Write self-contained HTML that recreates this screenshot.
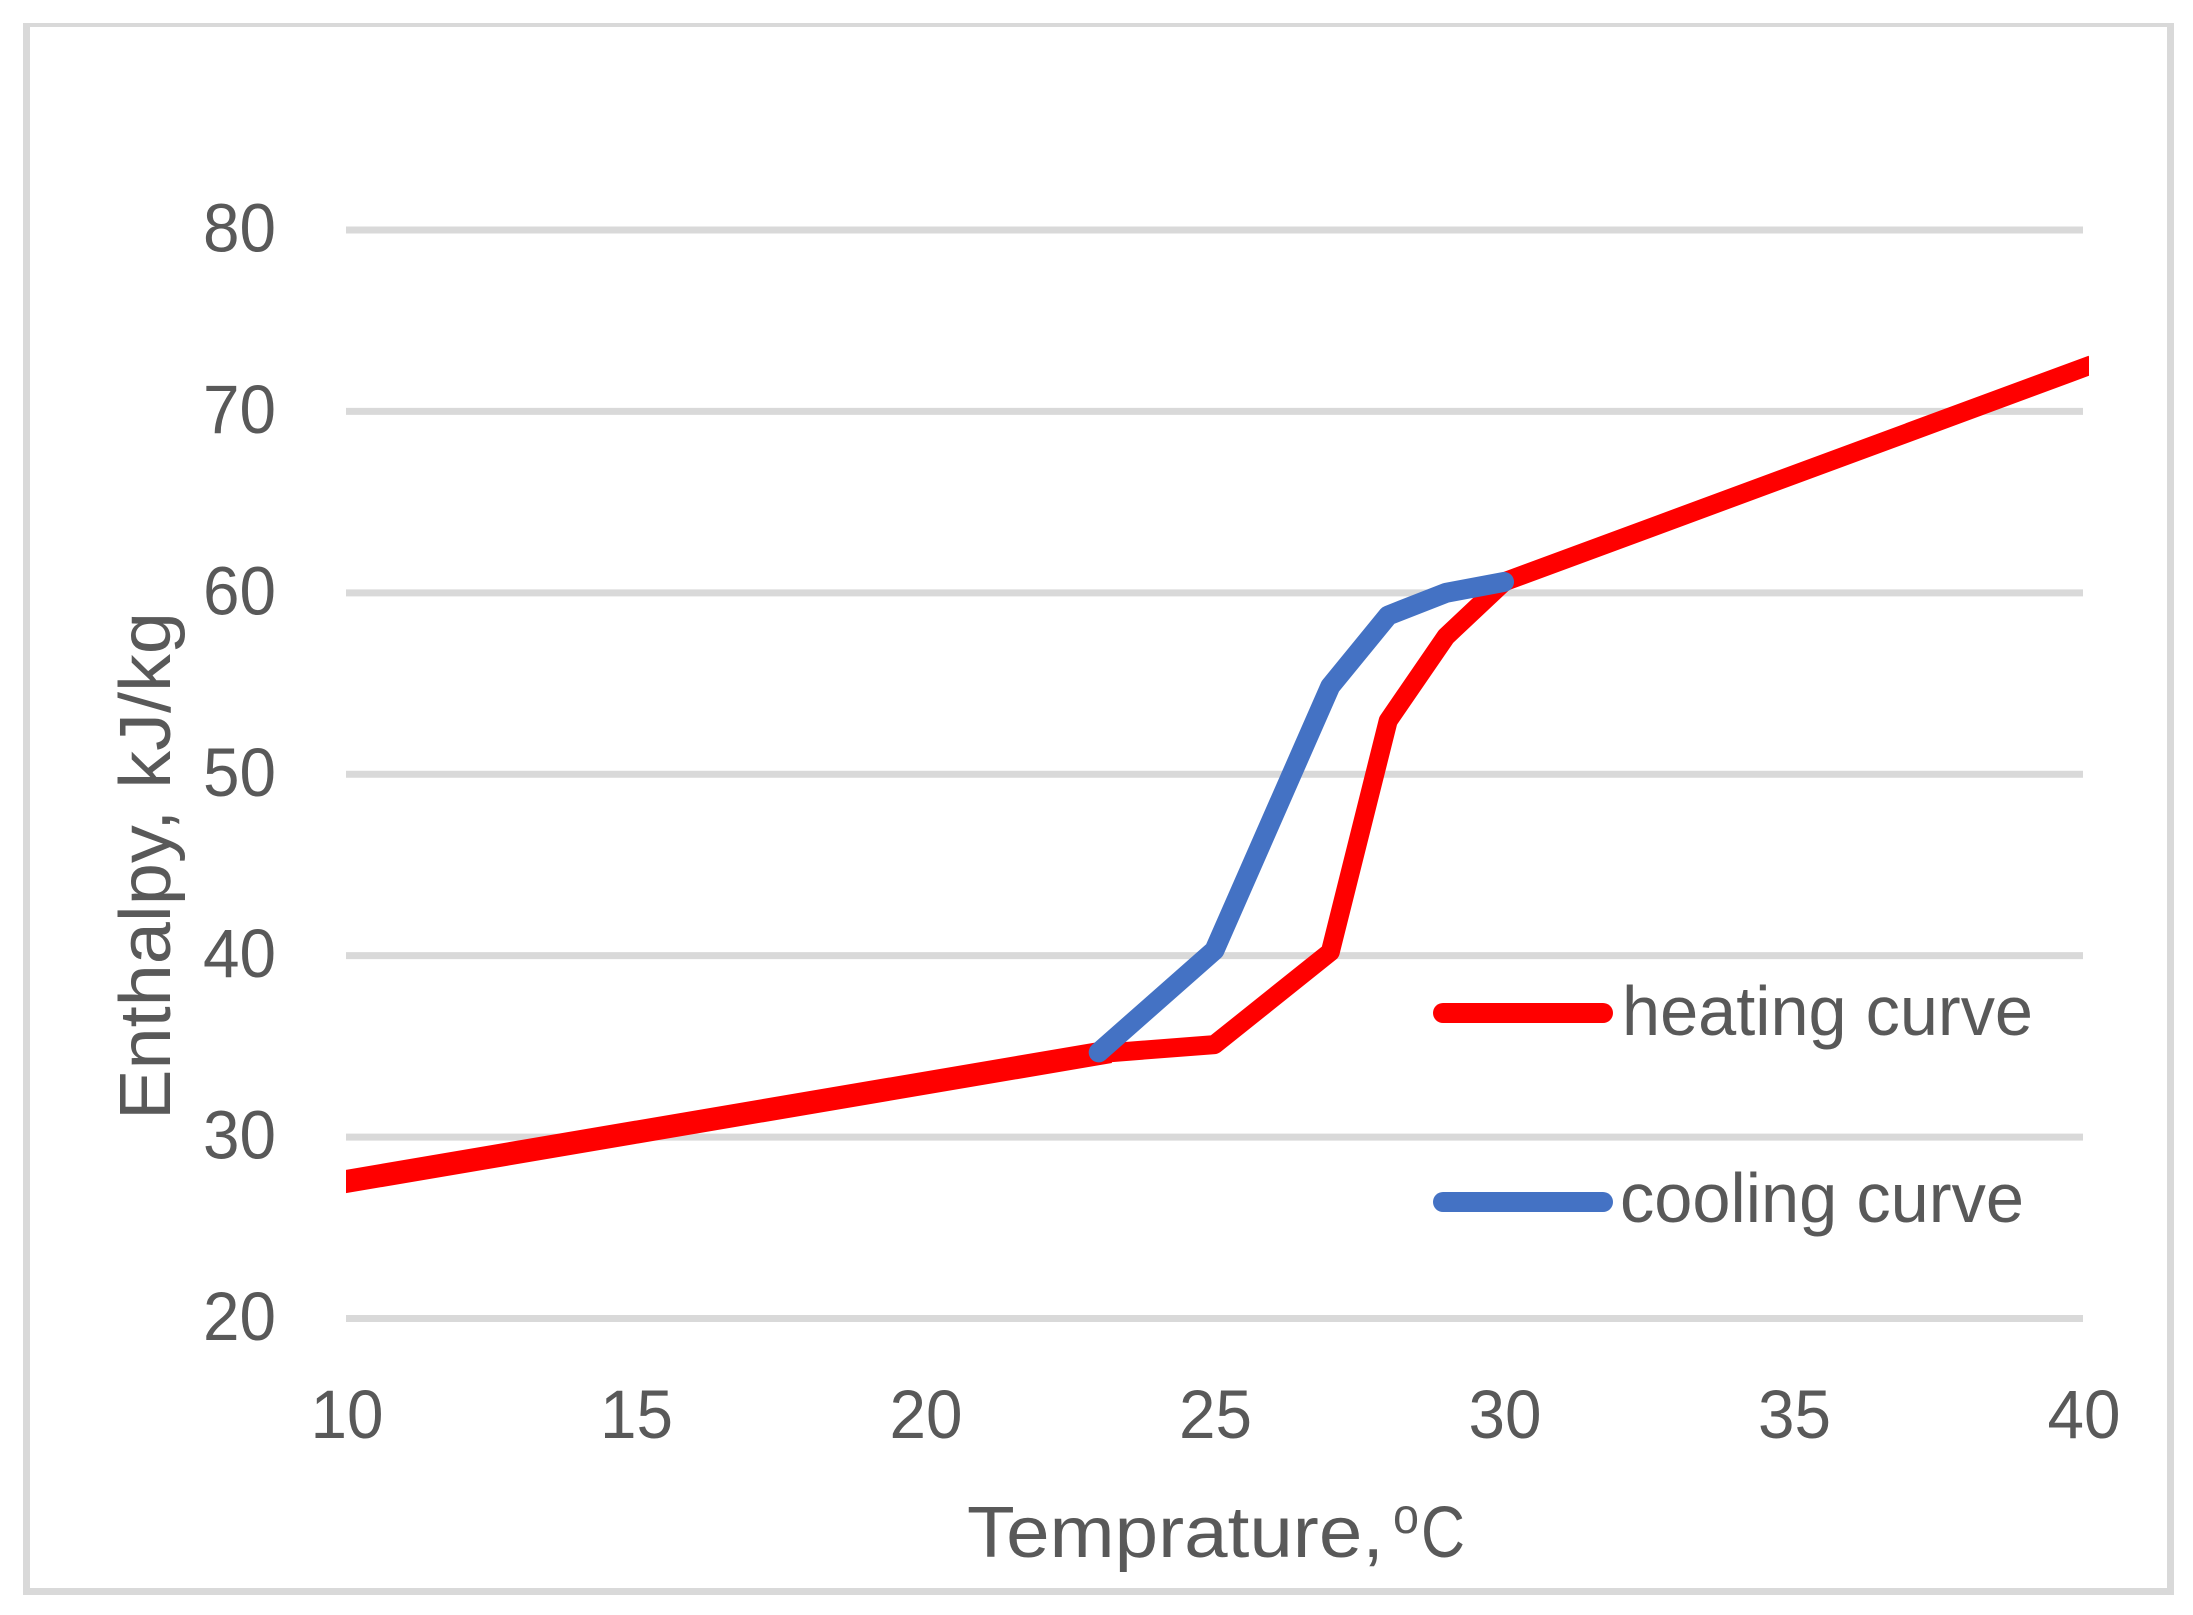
<!DOCTYPE html>
<html lang="en">
<head>
<meta charset="utf-8">
<title>Enthalpy vs Temperature</title>
<style>
html,body{margin:0;padding:0;background:#fff;}
svg{display:block;}
text{font-family:"Liberation Sans",sans-serif;fill:#595959;}
</style>
</head>
<body>
<svg id="chart" xmlns="http://www.w3.org/2000/svg" width="2193" height="1615" viewBox="0 0 2193 1615">
  <rect x="0" y="0" width="2193" height="1615" fill="#ffffff"/>
  <g fill="#D9D9D9">
    <rect x="23" y="23" width="2151" height="4"/>
    <rect x="23" y="1588" width="2151" height="7"/>
    <rect x="23" y="23" width="7" height="1572"/>
    <rect x="2167" y="23" width="7" height="1572"/>
  </g>
  <defs>
    <clipPath id="plot-clip"><rect x="346" y="100" width="1743" height="1300"/></clipPath>
  </defs>
  <g id="grid"></g>
  <g id="yticks"></g>
  <g id="xticks"></g>
  <g id="series" clip-path="url(#plot-clip)"></g>
  <text x="170" y="1120" transform="rotate(-90 170 1120)" font-size="72" textLength="508" lengthAdjust="spacingAndGlyphs">Enthalpy, kJ/kg</text>
  <g>
    <text x="967" y="1557" font-size="72" textLength="417" lengthAdjust="spacingAndGlyphs">Temprature,</text>
    <text x="1393" y="1533" font-size="50" textLength="26" lengthAdjust="spacingAndGlyphs">o</text>
    <text x="1421" y="1557" font-size="72" textLength="44" lengthAdjust="spacingAndGlyphs">C</text>
  </g>
  <g>
    <g>
      <line x1="1443" y1="1013" x2="1603" y2="1013" stroke="#FF0000" stroke-width="20" stroke-linecap="round"/>
      <text x="1622" y="1035" font-size="70" textLength="411" lengthAdjust="spacingAndGlyphs">heating curve</text>
    </g>
    <g>
      <line x1="1443" y1="1202" x2="1603" y2="1202" stroke="#4472C4" stroke-width="20" stroke-linecap="round"/>
      <text x="1620" y="1222" font-size="70" textLength="404" lengthAdjust="spacingAndGlyphs">cooling curve</text>
    </g>
  </g>
</svg>
<script>
var xTickValues = [10, 15, 20, 25, 30, 35, 40];
var yTickValues = [20, 30, 40, 50, 60, 70, 80];
var heatingTemps = [10, 23, 25, 27, 28, 29, 30, 40];
var heatingEnthalpy = [27.55, 34.6, 35.1, 40.2, 52.95, 57.6, 60.6, 72.4];
var coolingTemps = [23, 25, 27, 28, 29, 30];
var coolingEnthalpy = [34.67, 40.3, 54.85, 58.75, 60.0, 60.6];
var sharedBranchEnd = 23;

var SVG_NS = 'http://www.w3.org/2000/svg';
function xScale(v) { return 346 + (v - 10) * (2083 - 346) / 30; }
function yScale(v) { return 1318.5 - (v - 20) * (1318.5 - 230) / 60; }
function make(tag, attrs, parent) {
  var el = document.createElementNS(SVG_NS, tag);
  for (var k in attrs) { el.setAttribute(k, attrs[k]); }
  parent.appendChild(el);
  return el;
}
function pointsOf(xs, ys) {
  return xs.map(function (x, i) { return xScale(x).toFixed(1) + ',' + yScale(ys[i]).toFixed(1); }).join(' ');
}

var grid = document.getElementById('grid');
var yticks = document.getElementById('yticks');
var xticks = document.getElementById('xticks');
var series = document.getElementById('series');

yTickValues.forEach(function (v) {
  var line = make('line', { x1: xScale(10), x2: xScale(40), y1: yScale(v), y2: yScale(v), stroke: '#D9D9D9', 'stroke-width': 7 }, grid);
  
  
  var label = make('text', { x: 276, y: yScale(v) + 21.5, 'font-size': 69, 'text-anchor': 'end', textLength: 73, lengthAdjust: 'spacingAndGlyphs' }, yticks);
  label.textContent = String(v);
  
  
});

xTickValues.forEach(function (v) {
  var label = make('text', { x: xScale(v) + 1, y: 1438, 'font-size': 69, 'text-anchor': 'middle', textLength: 73, lengthAdjust: 'spacingAndGlyphs' }, xticks);
  label.textContent = String(v);
  
  
});

var heating = make('polyline', { points: pointsOf(heatingTemps, heatingEnthalpy), fill: 'none', stroke: '#FF0000', 'stroke-width': 19, 'stroke-linejoin': 'round', 'stroke-linecap': 'square' }, series);



var sharedCount = heatingTemps.filter(function (t) { return t <= sharedBranchEnd; }).length;
var heatingShared = make('polyline', { points: pointsOf(heatingTemps.slice(0, sharedCount), heatingEnthalpy.slice(0, sharedCount)), fill: 'none', stroke: '#FF0000', 'stroke-width': 23, 'stroke-linecap': 'square' }, series);



var cooling = make('polyline', { points: pointsOf(coolingTemps, coolingEnthalpy), fill: 'none', stroke: '#4472C4', 'stroke-width': 20, 'stroke-linejoin': 'round', 'stroke-linecap': 'round' }, series);


</script>
</body>
</html>
